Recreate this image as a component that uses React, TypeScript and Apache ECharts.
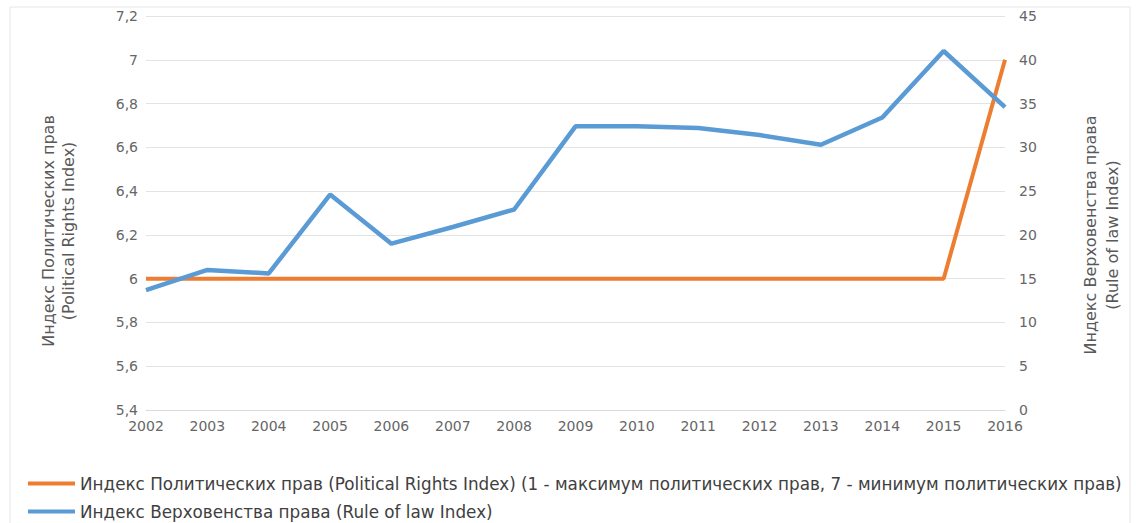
import React, { useEffect, useRef } from "react";
import * as echarts from "echarts";

const years = ["2002","2003","2004","2005","2006","2007","2008","2009","2010","2011","2012","2013","2014","2015","2016"];
const politicalRights = [6, 6, 6, 6, 6, 6, 6, 6, 6, 6, 6, 6, 6, 6, 7];
const ruleOfLaw = [13.7, 16.0, 15.6, 24.6, 19.0, 20.9, 22.9, 32.4, 32.4, 32.2, 31.4, 30.3, 33.4, 41.0, 34.6];

const seriesNames = [
  "Индекс Политических прав (Political Rights Index) (1 - максимум политических прав, 7 - минимум политических прав)",
  "Индекс Верховенства права (Rule of law Index)",
];
const leftAxisName = "Индекс Политических прав\n(Political Rights Index)";
const rightAxisName = "Индекс Верховенства права\n(Rule of law Index)";

const FONT = "DejaVu Sans";
const TICK = "#666666";

export default function App() {
  const ref = useRef<HTMLDivElement>(null);
  useEffect(() => {
    if (!ref.current) return;
    const chart = echarts.init(ref.current, undefined, { renderer: "svg" });
    const legendBase = {
      orient: "horizontal",
      left: 28,
      padding: 0,
      itemWidth: 47,
      itemHeight: 4,
      itemGap: 8,
      icon: "rect",
      textStyle: { fontSize: 16.8, color: "#404040", fontFamily: FONT },
    };
    chart.setOption({
      animation: false,
      textStyle: { fontFamily: FONT },
      graphic: [
        {
          type: "rect",
          shape: { x: 10, y: 7, width: 1120, height: 520 },
          style: { fill: "none", stroke: "#e6e6e6", lineWidth: 1 },
          silent: true,
        },
      ],
      grid: { left: 146, right: 131, top: 16, bottom: 113 },
      legend: [
        { ...legendBase, top: 475, data: [seriesNames[0]] },
        { ...legendBase, top: 503, data: [seriesNames[1]] },
      ],
      xAxis: {
        type: "category",
        data: years,
        boundaryGap: false,
        axisLine: { show: true, lineStyle: { color: "#d9d9d9" } },
        axisTick: { show: false },
        axisLabel: { color: TICK, fontSize: 14, margin: 9 },
      },
      yAxis: [
        {
          type: "value",
          min: 5.4,
          max: 7.2,
          interval: 0.2,
          position: "left",
          name: leftAxisName,
          nameLocation: "middle",
          nameRotate: 90,
          nameGap: 68,
          nameTextStyle: { color: "#595959", fontSize: 16, lineHeight: 20, padding: [0, 36, 0, 0] },
          axisLine: { show: false },
          axisTick: { show: false },
          axisLabel: {
            color: TICK,
            fontSize: 14,
            margin: 8,
            formatter: (v: number) => {
              const r = Math.round(v * 10) / 10;
              return String(r).replace(".", ",");
            },
          },
          splitLine: { lineStyle: { color: "#e3e3e3" } },
        },
        {
          type: "value",
          min: 0,
          max: 45,
          interval: 5,
          position: "right",
          name: rightAxisName,
          nameLocation: "middle",
          nameRotate: 90,
          nameGap: 74,
          nameTextStyle: { color: "#595959", fontSize: 16, lineHeight: 22, padding: [0, 44, 0, 0] },
          axisLine: { show: false },
          axisTick: { show: false },
          axisLabel: { color: TICK, fontSize: 14, margin: 14 },
          splitLine: { show: false },
        },
      ],
      series: [
        {
          name: seriesNames[0],
          type: "line",
          yAxisIndex: 0,
          data: politicalRights,
          symbol: "none",
          lineStyle: { color: "#ED7D31", width: 4 },
          itemStyle: { color: "#ED7D31" },
        },
        {
          name: seriesNames[1],
          type: "line",
          yAxisIndex: 1,
          data: ruleOfLaw,
          symbol: "none",
          lineStyle: { color: "#5B9BD5", width: 4.5 },
          itemStyle: { color: "#5B9BD5" },
        },
      ],
    });
    return () => chart.dispose();
  }, []);
  return (
    <div
      ref={ref}
      style={{ position: "fixed", left: 0, top: 0, width: 1136, height: 523, background: "#fff" }}
    />
  );
}
